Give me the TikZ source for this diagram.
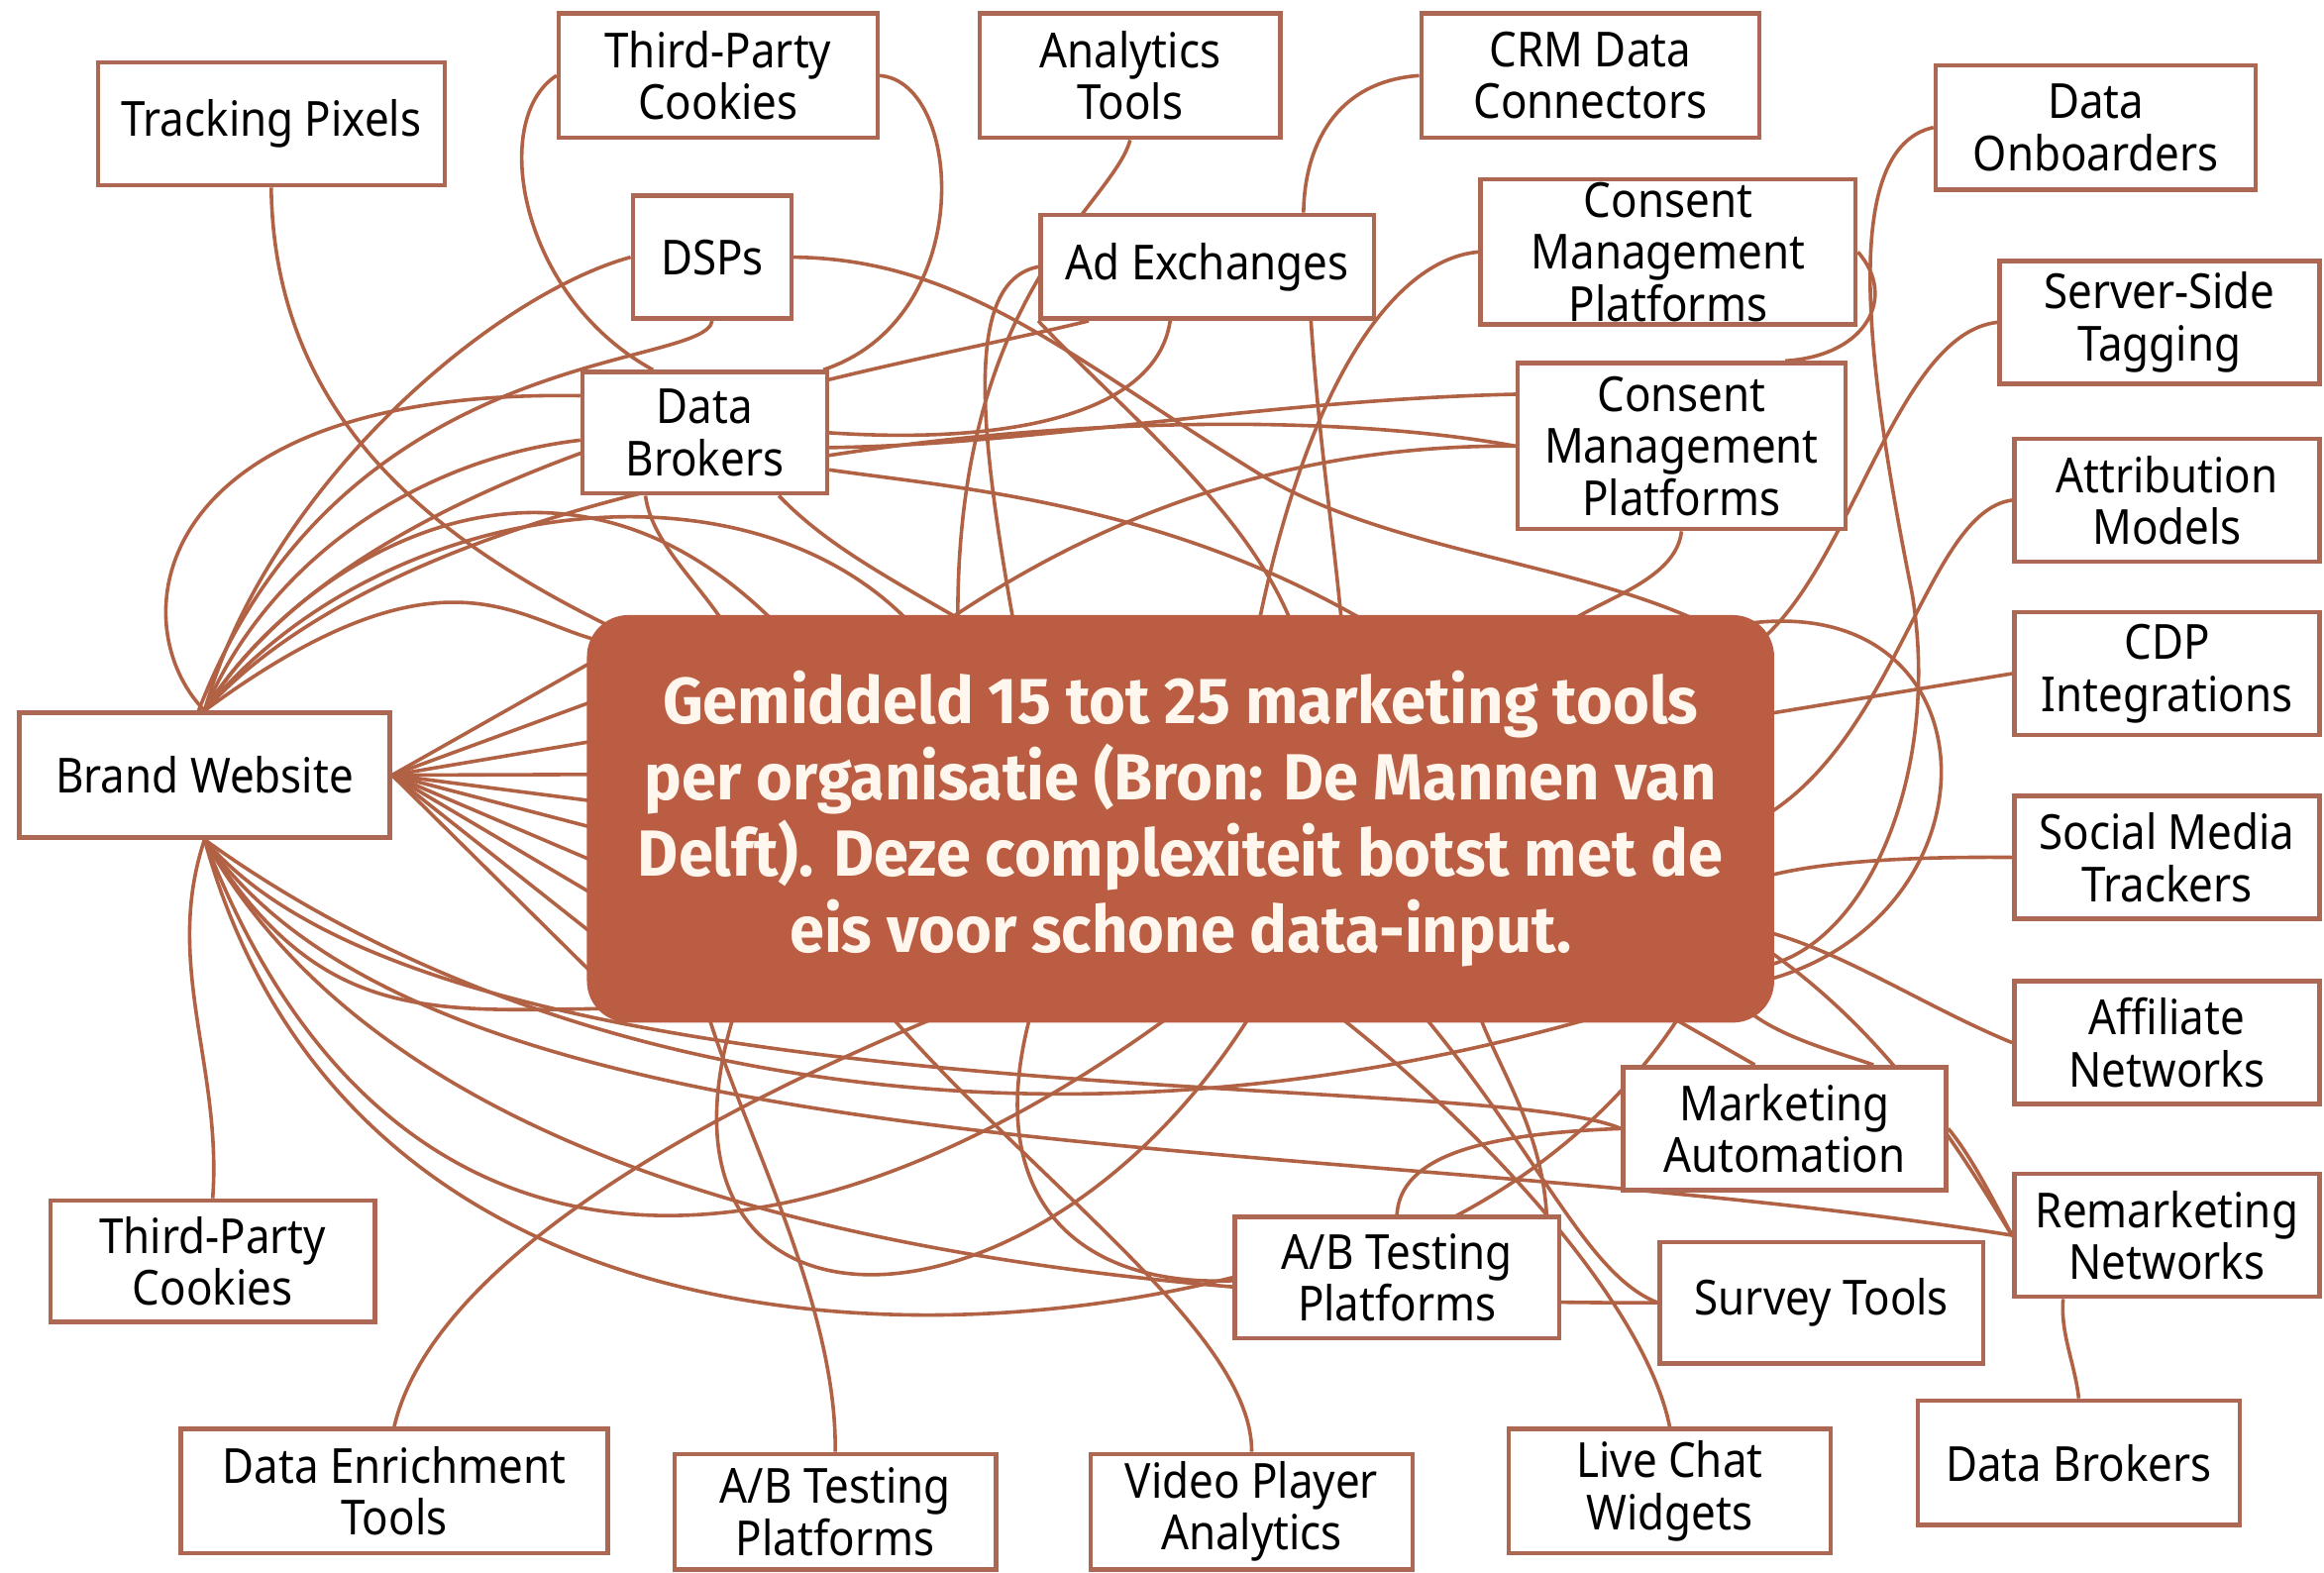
\documentclass[tikz,border=0pt]{standalone}
\usepackage{fontspec}
\setmainfont[FakeStretch=0.9]{Noto Sans}
\newfontfamily\ctrfont[FakeStretch=0.96]{Fira Sans}
\usetikzlibrary{calc,backgrounds}
\definecolor{linec}{RGB}{178,98,68}
\definecolor{boxc}{RGB}{172,104,82}
\definecolor{ctrfill}{RGB}{186,93,66}
\definecolor{ctrtext}{RGB}{255,246,238}
\tikzset{
  box/.style={draw=boxc, line width=1.5pt, fill=white, inner sep=0pt, align=center,
    text=black, font=\fontsize{16.3}{17.5}\selectfont},
  ctr/.style={fill=ctrfill, rounded corners=14pt, inner sep=0pt, align=center,
    text=ctrtext, font=\ctrfont\bfseries\fontsize{22}{25.75}\selectfont},
  wire/.style={draw=linec, line width=1.2pt}
}
\newcommand\bx[6]{%
  \pgfmathsetmacro\bxcx{(#2+#4)/2}\pgfmathsetmacro\bxcy{(#3+#5)/2}%
  \pgfmathsetmacro\bxw{(#4-#2)*0.5}\pgfmathsetmacro\bxh{(#5-#3)*0.5}%
  \node[box, minimum width=\bxw pt, minimum height=\bxh pt] (#1) at (\bxcx,\bxcy) {#6};}
\begin{document}
\begin{tikzpicture}[x=0.5pt,y=-0.5pt]
\useasboundingbox (0,0) rectangle (1568,1061);
% nodes
\bx{tp}{66}{42}{300}{125}{Tracking Pixels}
\bx{tpa}{377}{9}{592}{93}{Third-Party\\Cookies}
\bx{at}{661}{9}{864}{93}{Analytics\\Tools}
\bx{crm}{959}{9}{1187}{93}{CRM Data\\Connectors}
\bx{dob}{1306}{44}{1522}{128}{Data\\Onboarders}
\bx{dsp}{427}{132}{534}{215}{DSPs}
\bx{adx}{702}{145}{927}{215}{Ad Exchanges}
\bx{cmpa}{999}{121}{1252}{219}{Consent\\Management\\Platforms}
\bx{sst}{1349}{176}{1565}{259}{Server-Side\\Tagging}
\bx{dba}{393}{251}{558}{333}{Data\\Brokers}
\bx{cmpb}{1024}{245}{1245}{357}{Consent\\Management\\Platforms}
\bx{attr}{1359}{296}{1565}{379}{Attribution\\Models}
\bx{cdp}{1359}{413}{1565}{496}{CDP\\Integrations}
\bx{bw}{13}{481}{263}{565}{Brand Website}
\bx{smt}{1359}{537}{1565}{620}{Social Media\\Trackers}
\bx{aff}{1359}{662}{1565}{745}{Affiliate\\Networks}
\bx{ma}{1095}{720}{1313}{803}{Marketing\\Automation}
\bx{rem}{1359}{792}{1565}{875}{Remarketing\\Networks}
\bx{aba}{833}{821}{1052}{903}{A/B Testing\\Platforms}
\bx{sur}{1120}{838}{1338}{920}{Survey Tools}
\bx{tpb}{34}{810}{253}{892}{Third-Party\\Cookies}
\bx{det}{122}{964}{410}{1048}{Data Enrichment\\Tools}
\bx{abb}{455}{981}{672}{1059}{A/B Testing\\Platforms}
\bx{vpa}{736}{981}{953}{1059}{Video Player\\Analytics}
\bx{lcw}{1018}{964}{1235}{1048}{Live Chat\\Widgets}
\bx{dbb}{1294}{945}{1511}{1029}{Data Brokers}
\node[ctr, minimum width=400.5pt, minimum height=137.5pt] (c) at (796.5,552.5)
  {Gemiddeld 15 tot 25 marketing tools\\per organisatie (Bron: De Mannen van\\Delft). Deze complexiteit botst met de\\eis voor schone data-input.};
\begin{scope}[on background layer]
\fill[white] (0,0) rectangle (1568,1061);
% Brand Website east fan
\foreach \dy in {-115,-85,-55,-30,-10,10,35,60,90,120}
  \draw[wire] (bw.east) -- ($(c.west)+(20,\dy)$);
% top-left group
\draw[wire] (tp.south) .. controls (185,300) and (320,380) .. ($(c.north)+(-360,20)$);
\draw[wire] (tpa.west) .. controls (330,80) and (350,200) .. ($(dba.north)+(-35,0)$);
\draw[wire] (tpa.east) .. controls (650,55) and (660,215) .. ($(dba.north)+(80,0)$);
\draw[wire] (dsp.south) .. controls (475,250) and (230,230) .. ($(bw.north)+(-4,0)$);
\draw[wire] (dsp.west) .. controls (330,200) and (180,330) .. (bw.north);
\draw[wire] ($(dba.west)+(0,-25)$) .. controls (100,262) and (80,420) .. (bw.north);
\draw[wire] ($(dba.west)+(0,5)$) .. controls (280,310) and (180,380) .. (bw.north);
\draw[wire] (bw.north) .. controls (260,330) and (520,300) .. ($(c.north)+(-170,20)$);
\draw[wire] (bw.north) .. controls (300,360) and (350,420) .. ($(c.west)+(10,-120)$);
\draw[wire] (bw.north) .. controls (300,300) and (800,260) .. (cmpb.west);
\draw[wire] (bw.north) .. controls (250,300) and (600,250) .. ($(adx.south)+(-80,0)$);
\draw[wire] (bw.north) .. controls (200,380) and (380,260) .. ($(c.north)+(-260,20)$);
% top-middle group
\draw[wire] (at.south) .. controls (750,140) and (640,200) .. ($(c.north)+(-150,20)$);
\draw[wire] (crm.west) .. controls (900,55) and (880,100) .. ($(adx.north)+(65,0)$);
\draw[wire] (adx.south west) .. controls (760,280) and (850,350) .. ($(c.north)+(80,20)$);
\draw[wire] ($(adx.south)+(-25,0)$) .. controls (780,280) and (680,300) .. (dba.east);
\draw[wire] ($(adx.south)+(70,0)$) .. controls (890,300) and (900,360) .. ($(c.north)+(110,20)$);
\draw[wire] (dsp.east) .. controls (650,175) and (720,240) .. (850,320) .. controls (950,380) and (1100,380) .. ($(c.east)+(-10,-110)$);
\draw[wire] (adx.west) .. controls (650,190) and (660,290) .. ($(c.north)+(-110,20)$);
\draw[wire] (cmpa.west) .. controls (940,175) and (880,260) .. ($(c.north)+(50,20)$);
\draw[wire] (cmpa.east) .. controls (1280,200) and (1260,240) .. ($(cmpb.north)+(70,0)$);
\draw[wire] ($(dba.east)+(0,10)$) .. controls (700,300) and (850,270) .. ($(cmpb.west)+(0,-35)$);
\draw[wire] (cmpb.west) .. controls (900,300) and (760,330) .. ($(c.north)+(-180,20)$);
\draw[wire] (cmpb.south) .. controls (1130,400) and (1050,410) .. ($(c.north)+(250,20)$);
\draw[wire] ($(dba.south)+(50,0)$) .. controls (560,370) and (600,390) .. ($(c.north)+(-120,20)$);
\draw[wire] ($(dba.south)+(-40,0)$) .. controls (440,370) and (480,400) .. ($(c.north)+(-300,20)$);
\draw[wire] ($(dba.east)+(0,25)$) .. controls (650,330) and (800,340) .. ($(c.north)+(150,20)$);
% right group
\draw[wire] (dob.west) .. controls (1240,100) and (1260,250) .. (1290,400) .. controls (1310,520) and (1260,640) .. ($(c.east)+(-10,100)$);
\draw[wire] (sst.west) .. controls (1280,225) and (1250,380) .. ($(c.east)+(-10,-120)$);
\draw[wire] (attr.west) .. controls (1300,345) and (1280,500) .. ($(c.east)+(-10,0)$);
\draw[wire] (cdp.west) -- ($(c.east)+(-10,-70)$);
\draw[wire] (smt.west) .. controls (1300,578) and (1230,580) .. ($(c.east)+(-10,40)$);
\draw[wire] (aff.west) .. controls (1300,680) and (1240,640) .. ($(c.east)+(-10,75)$);
\draw[wire] ($(c.north east)+(-40,10)$) .. controls (1350,380) and (1360,620) .. ($(c.east)+(-10,110)$);
\draw[wire] ($(c.east)+(-10,85)$) .. controls (1280,700) and (1330,790) .. (rem.west);
\draw[wire] ($(c.south east)+(-20,-10)$) .. controls (1200,700) and (1240,710) .. ($(ma.north)+(60,0)$);
\draw[wire] ($(c.south east)+(-80,-10)$) -- ($(ma.north)+(-20,0)$);
\draw[wire] (ma.east) .. controls (1330,780) and (1345,810) .. (rem.west);
\draw[wire] ($(rem.south)+(-70,0)$) .. controls (1390,900) and (1400,920) .. (dbb.north);
\draw[wire] (ma.west) .. controls (1000,765) and (945,780) .. (aba.north);
\draw[wire] ($(aba.north east)+(-10,0)$) .. controls (1040,760) and (1010,720) .. ($(c.south)+(200,-10)$);
\draw[wire] (sur.west) .. controls (1070,860) and (1040,780) .. ($(c.south)+(160,-10)$);
% bottom group
\draw[wire] (lcw.north) .. controls (1110,880) and (1000,760) .. ($(c.south)+(100,-10)$);
\draw[wire] (vpa.north) .. controls (845,900) and (700,800) .. ($(c.south)+(-200,-10)$);
\draw[wire] (abb.north) .. controls (565,880) and (500,760) .. ($(c.south)+(-320,-10)$);
\draw[wire] (det.north) .. controls (290,860) and (450,760) .. ($(c.south)+(-150,-10)$);
\draw[wire] (tpb.north) .. controls (150,720) and (110,650) .. (bw.south);
\draw[wire] (bw.south) .. controls (300,800) and (900,760) .. (rem.west);
\draw[wire] (bw.south) .. controls (280,820) and (700,880) .. (sur.west);
\draw[wire] (bw.south) .. controls (250,860) and (500,900) .. ($(c.south)+(0,-10)$);
\draw[wire] (bw.south) .. controls (350,720) and (700,800) .. ($(c.south)+(300,-10)$);
\draw[wire] (bw.south) .. controls (220,700) and (300,680) .. ($(c.south west)+(40,-10)$);
\draw[wire] (bw.south) .. controls (300,760) and (1000,720) .. (ma.west);
\draw[wire] (bw.south) .. controls (230,900) and (600,920) .. (aba.west);
\draw[wire] ($(c.south)+(-300,-10)$) .. controls (420,920) and (700,920) .. ($(c.south)+(50,-10)$);
\draw[wire] ($(c.south)+(-100,-10)$) .. controls (620,950) and (1000,900) .. ($(c.south)+(340,-10)$);
\end{scope}
\end{tikzpicture}
\end{document}
